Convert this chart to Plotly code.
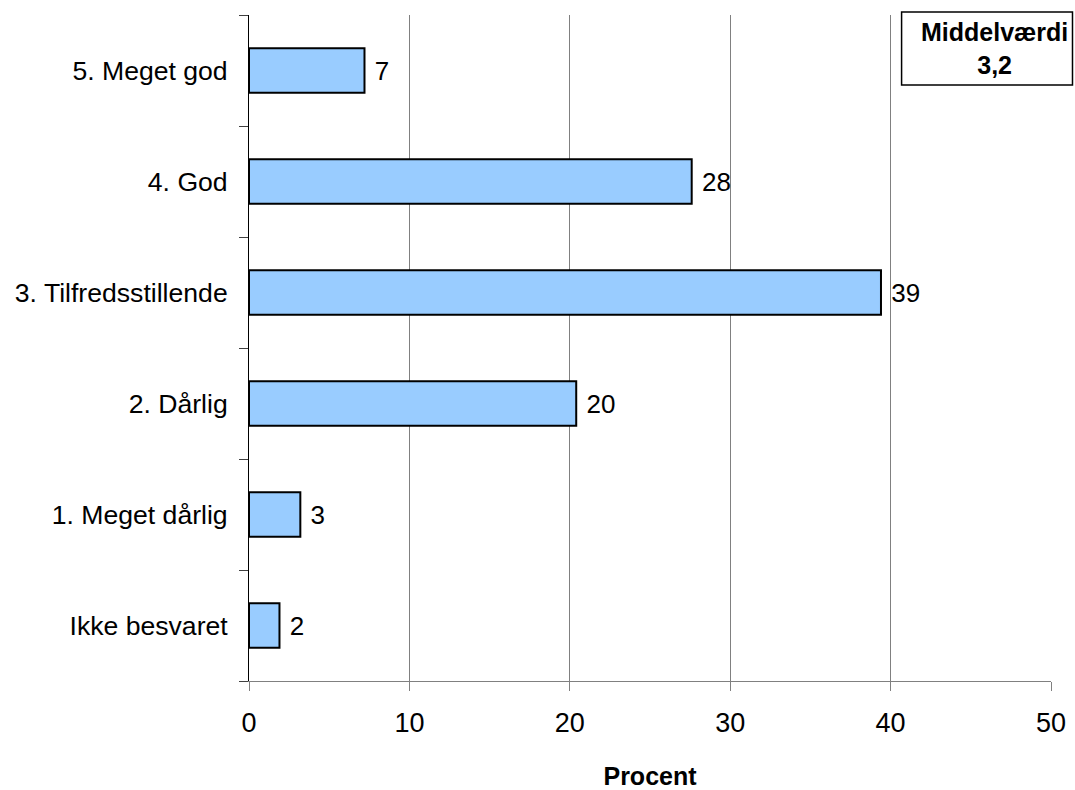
import plotly.graph_objects as go

categories = ["Ikke besvaret", "1. Meget dårlig", "2. Dårlig",
              "3. Tilfredsstillende", "4. God", "5. Meget god"]
values = [1.9, 3.2, 20.4, 39.4, 27.6, 7.2]
value_labels = ["2", "3", "20", "39", "28", "7"]
x_ticks = [0, 10, 20, 30, 40, 50]
mean_title = "Middelværdi"
mean_value = "3,2"
x_title = "Procent"

FONT = "Liberation Sans, Arial, sans-serif"

fig = go.Figure()
fig.add_trace(go.Bar(
    x=values,
    y=categories,
    orientation="h",
    width=0.4,
    marker=dict(color="#99CCFF", line=dict(color="#000000", width=2)),
    text=[" " + t for t in value_labels],
    textposition="outside",
    textfont=dict(family=FONT, size=26, color="#000000"),
    constraintext="none",
    cliponaxis=False,
    showlegend=False,
))

fig.update_layout(
    width=1075,
    height=790,
    margin=dict(l=249, r=23.5, t=15, b=109, autoexpand=False),
    paper_bgcolor="white",
    plot_bgcolor="white",
    font=dict(family=FONT, color="#000000"),
    xaxis=dict(
        range=[0, 50],
        tickvals=x_ticks,
        ticktext=[str(v) for v in x_ticks],
        showgrid=True,
        gridcolor="#808080",
        gridwidth=1,
        showline=True,
        linecolor="#808080",
        linewidth=1,
        ticks="outside",
        ticklen=9,
        tickcolor="#808080",
        tickfont=dict(family=FONT, size=27, color="#000000"),
        ticklabelstandoff=9,
        zeroline=False,
        title=dict(text="<b>" + x_title + "</b>",
                   font=dict(family=FONT, size=25, color="#000000"),
                   standoff=31),
        automargin=False,
    ),
    yaxis=dict(
        categoryorder="array",
        categoryarray=categories,
        showgrid=False,
        showline=True,
        linecolor="#000000",
        linewidth=1,
        ticks="outside",
        tickson="boundaries",
        ticklen=9,
        tickcolor="#404040",
        tickfont=dict(family=FONT, size=26.6, color="#000000"),
        ticklabelstandoff=15,
        zeroline=False,
        automargin=False,
    ),
    shapes=[dict(
        type="rect", xref="paper", yref="paper",
        x0=0.8137, x1=1.0268, y0=0.895, y1=1.0045,
        line=dict(color="#000000", width=1.5),
        fillcolor="white",
        layer="above",
    )],
    annotations=[dict(
        xref="paper", yref="paper",
        x=0.9296, y=0.95,
        text="<b>" + mean_title + "<br>" + mean_value + "</b>",
        showarrow=False,
        font=dict(family=FONT, size=25, color="#000000"),
        align="center",
        xanchor="center", yanchor="middle",
    )],
)

fig.write_html("out.html",
               config={"displayModeBar": False},
               post_script="document.body.style.margin='0';document.body.style.overflow='hidden';")
